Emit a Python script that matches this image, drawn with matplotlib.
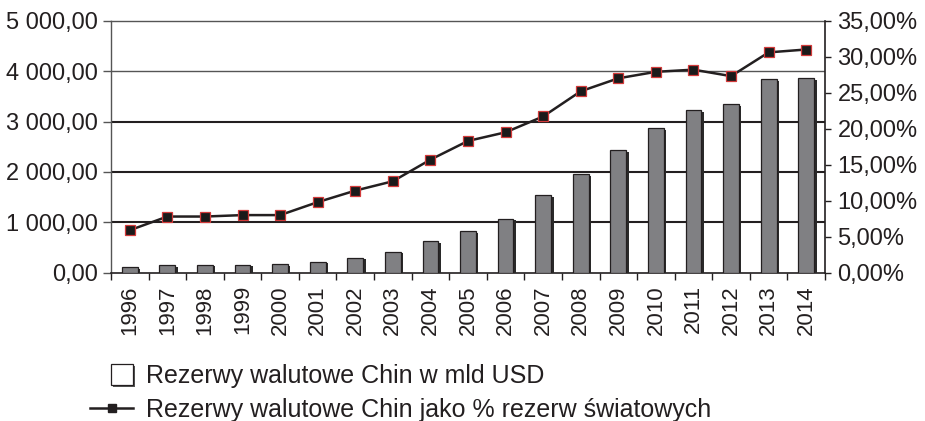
import matplotlib
matplotlib.use("Agg")
import matplotlib.pyplot as plt
import matplotlib.patheffects as pe
from matplotlib.lines import Line2D
from matplotlib.patches import Rectangle
from matplotlib.ticker import FixedLocator, FuncFormatter, MultipleLocator

# --- data ---
years = [str(y) for y in range(1996, 2015)]
reserves_usd_bn = [110, 150, 155, 162, 170, 220, 300, 415, 620, 825,
                   1075, 1540, 1955, 2430, 2870, 3220, 3345, 3840, 3860]
share_of_world = [5.9, 7.8, 7.8, 8.0, 8.0, 9.8, 11.4, 12.7, 15.7, 18.3,
                  19.5, 21.7, 25.2, 27.0, 27.9, 28.2, 27.3, 30.6, 31.0]
bar_label = "Rezerwy walutowe Chin w mld USD"
line_label = "Rezerwy walutowe Chin jako % rezerw światowych"

INK = "#231f20"
BAR = "#808083"

plt.rcParams["font.family"] = ["Liberation Sans", "DejaVu Sans"]
plt.rcParams["text.color"] = INK

fig = plt.figure(figsize=(9.25, 4.21), dpi=100)
ax = fig.add_axes([111 / 925, 1 - 272.7 / 421, 714 / 925, 252 / 421])
ax2 = ax.twinx()

x = range(len(years))

# bars with a dark drop shadow
shadow = [pe.SimplePatchShadow(offset=(1.8, -1.1), shadow_rgbFace="#2a2a2a", alpha=1.0),
          pe.Normal()]
bars = ax.bar(x, reserves_usd_bn, width=0.42, color=BAR, edgecolor=INK,
              linewidth=0.9, zorder=3)
for b in bars:
    b.set_path_effects(shadow)

# horizontal guide lines
for v, c, lw in [(1000, INK, 1.5), (2000, INK, 1.5), (3000, INK, 1.5), (4000, "#555555", 1.0)]:
    ax.axhline(v, color=c, linewidth=lw, zorder=1)

ax.set_xlim(-0.5, len(years) - 0.5)
ax.set_ylim(0, 5000)
ax.yaxis.set_major_locator(MultipleLocator(1000))
ax.yaxis.set_major_formatter(FuncFormatter(lambda v, p: f"{v:,.2f}".replace(",", " ").replace(".", ",")))

# ticks sit between categories, year labels at the centres
ax.xaxis.set_major_locator(FixedLocator([i - 0.5 for i in range(len(years) + 1)]))
ax.xaxis.set_minor_locator(FixedLocator(list(x)))
ax.xaxis.set_minor_formatter(FuncFormatter(lambda v, p: years[int(round(v))]))
ax.xaxis.set_major_formatter(FuncFormatter(lambda v, p: ""))
ax.tick_params(axis="x", which="major", length=5, width=1.0, color=INK, direction="out")
ax.tick_params(axis="x", which="minor", length=0, pad=9, labelsize=16, labelrotation=90,
               labelcolor=INK)
ax.tick_params(axis="y", length=6, width=1.0, color="#555555", pad=3.5, labelsize=17,
               labelcolor=INK)

ax.spines["top"].set_color("#555555")
ax.spines["top"].set_linewidth(1.0)
ax.spines["left"].set_color("#555555")
ax.spines["left"].set_linewidth(1.0)
ax.spines["bottom"].set_color(INK)
ax.spines["bottom"].set_linewidth(1.2)
ax.spines["right"].set_visible(False)

# share of world reserves on the right axis
ax2.plot(x, [s / 100 for s in share_of_world], color=INK, linewidth=1.8,
         marker="s", markersize=6.5, markerfacecolor="#1a1a1a",
         markeredgecolor="#d23a3a", markeredgewidth=0.9, zorder=5)
ax2.set_ylim(0, 0.35)
ax2.yaxis.set_major_locator(MultipleLocator(0.05))
ax2.yaxis.set_major_formatter(FuncFormatter(lambda v, p: f"{v * 100:.2f}%".replace(".", ",")))
ax2.tick_params(axis="y", length=4, width=1.0, color=INK, pad=5, labelsize=17, labelcolor=INK)
for s in ["top", "left", "bottom"]:
    ax2.spines[s].set_visible(False)
ax2.spines["right"].set_color(INK)
ax2.spines["right"].set_linewidth(1.2)

# legend entries laid out under the chart (fig.legend keeps both)
box = Rectangle((0, 0), 1, 1, facecolor="white", edgecolor=INK, linewidth=0.9,
                path_effects=[pe.SimplePatchShadow(offset=(1.6, -1.6), shadow_rgbFace="#555555", alpha=1.0),
                              pe.Normal()])
fig.legend([box], [bar_label], loc="center left", bbox_to_anchor=(110.7 / 925, 1 - 376 / 421),
           frameon=False, fontsize=18, handlelength=0.88, handleheight=0.88,
           handletextpad=0.52, borderpad=0, borderaxespad=0)
mark = Line2D([0], [0], color=INK, linewidth=1.8, marker="s", markersize=6,
              markerfacecolor=INK, markeredgecolor=INK)
fig.legend([mark], [line_label], loc="center left", bbox_to_anchor=(90 / 925, 1 - 410 / 421),
           frameon=False, fontsize=18, handlelength=1.72, handletextpad=0.52,
           borderpad=0, borderaxespad=0)

fig.savefig("out.png", dpi=100, facecolor="white")
